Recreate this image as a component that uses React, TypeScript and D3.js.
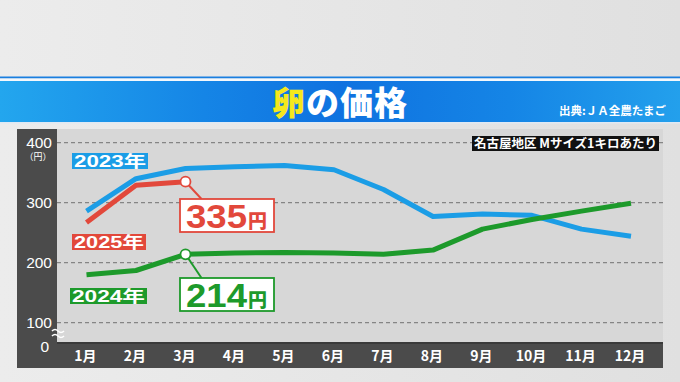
import React from "react";
import * as d3 from "d3";

const months = ["1月", "2月", "3月", "4月", "5月", "6月", "7月", "8月", "9月", "10月", "11月", "12月"];
const yTicks = [400, 300, 200, 100];
const prices2023 = [286, 340, 357, 360, 362, 355, 322, 277, 281, 279, 256, 244];
const prices2024 = [180, 187, 214, 216, 217, 216, 214, 221, 256, 272, 286, 299];
const prices2025 = [267, 329, 335];

const W = 680;
const H = 382;
const FONT = "'Noto Sans CJK JP', 'Noto Sans', sans-serif";
const LAT = "'Liberation Sans', Arial, sans-serif";

export default function App() {
  const x = d3.scalePoint<string>().domain(months).range([86.5, 631]);
  const y = d3.scaleLinear().domain([100, 400]).range([322.7, 142.7]);
  const line = d3
    .line<number>()
    .x((_, i) => x(months[i]) as number)
    .y((d) => y(d))
    .curve(d3.curveLinear);

  const blue = "#1b9de6";
  const red = "#e2483b";
  const green = "#1d9a2b";

  const p25 = { x: x(months[2]) as number, y: y(prices2025[2]) };
  const p24 = { x: x(months[2]) as number, y: y(prices2024[2]) };

  const yearLabel = (label: string, bx: number, by: number, w: number, color: string) => (
    <g>
      <rect x={bx} y={by} width={w} height={16} fill={color} />
      <text x={bx + 2} y={by + 14} fontSize={16} fontWeight={700} fill="#ffffff" fontFamily={LAT}
        textLength={w - 4} lengthAdjust="spacingAndGlyphs">
        {label.slice(0, 4)}
        <tspan fontFamily={FONT} fontSize={16}>{label.slice(4)}</tspan>
      </text>
    </g>
  );

  return (
    <svg width={W} height={H} style={{ position: "absolute", left: 0, top: 0 }} fontFamily={FONT}>
      <defs>
        <linearGradient id="bg" x1="0" y1="0" x2="1" y2="0">
          <stop offset="0" stopColor="#ececec" />
          <stop offset="1" stopColor="#e0e0e0" />
        </linearGradient>
        <linearGradient id="banner" x1="0" y1="0" x2="1" y2="0">
          <stop offset="0" stopColor="#23a6ee" />
          <stop offset="0.3" stopColor="#1585e6" />
          <stop offset="0.5" stopColor="#0f72e0" />
          <stop offset="0.75" stopColor="#1585e6" />
          <stop offset="1" stopColor="#23a0ec" />
        </linearGradient>
      </defs>
      <rect x={0} y={0} width={W} height={H} fill="url(#bg)" />
      {/* banner */}
      <rect x={0} y={76.5} width={W} height={2} fill="#1a7fe0" />
      <rect x={0} y={78.5} width={W} height={2.5} fill="#f4f8fc" />
      <rect x={0} y={81} width={W} height={41} fill="url(#banner)" />
      <rect x={0} y={122} width={W} height={1.5} fill="#dfe9f4" />
      <text x={340} y={115} textAnchor="middle" fontSize={33} fontWeight={900} fill="#ffffff" letterSpacing={1}>
        <tspan fill="#f5e81c">卵</tspan>
        <tspan>の価格</tspan>
      </text>
      <text x={666} y={115} textAnchor="end" fontSize={11.5} fontWeight={700} fill="#ffffff">
        出典:ＪＡ全農たまご
      </text>

      {/* panel */}
      <rect x={57} y={129} width={606} height={214} fill="#d7d7d7" />
      <rect x={17} y={129} width={40} height={239} fill="#4b4b4b" />
      <rect x={17} y={343} width={646} height={25} fill="#4b4b4b" />
      <rect x={57} y={342} width={606} height={2} fill="#3a3a3a" />

      {/* grid */}
      {yTicks.map((t) => (
        <line key={t} x1={57} x2={663} y1={y(t)} y2={y(t)} stroke="#858585" strokeWidth={1.3} strokeDasharray="4 3" />
      ))}

      {/* y labels */}
      {yTicks.map((t) => (
        <text key={t} x={52} y={y(t) + 5.5} textAnchor="end" fontSize={15.5} fill="#ffffff" fontFamily={LAT}>
          {t}
        </text>
      ))}
      <text x={38} y={160} textAnchor="middle" fontSize={9} fill="#ffffff">（円）</text>
      <text x={49} y={352} textAnchor="end" fontSize={15.5} fill="#ffffff" fontFamily={LAT}>
        0
      </text>
      {/* break mark */}
      <g stroke="#ffffff" strokeWidth={1.6} fill="none">
        <path d="M52,331 q3,-3 6,0 t6,0" />
        <path d="M52,336 q3,-3 6,0 t6,0" />
      </g>

      {/* x labels */}
      {months.map((m) => (
        <text key={m} x={(x(m) as number) - 1} y={361} textAnchor="middle" fontSize={14} fontWeight={700} fill="#ffffff">
          {m}
        </text>
      ))}

      {/* note */}
      <rect x={472} y={136} width={187} height={15} fill="#111111" />
      <text x={565.5} y={148} textAnchor="middle" fontSize={12.5} fontWeight={700} fill="#ffffff">
        名古屋地区 Mサイズ1キロあたり
      </text>

      {/* lines */}
      <path d={line(prices2023) || ""} fill="none" stroke={blue} strokeWidth={5} strokeLinejoin="round" />
      <path d={line(prices2024) || ""} fill="none" stroke={green} strokeWidth={5} strokeLinejoin="round" />
      <path d={line(prices2025) || ""} fill="none" stroke={red} strokeWidth={5} strokeLinejoin="round" />

      {/* callouts */}
      <line x1={p25.x} y1={p25.y} x2={p25.x + 16} y2={199} stroke={red} strokeWidth={2} />
      <circle cx={p25.x} cy={p25.y} r={5} fill="#ffffff" stroke={red} strokeWidth={1.8} />
      <rect x={180} y={199} width={94} height={33} fill="#ffffff" stroke={red} strokeWidth={1.8} />
      <text x={186} y={228} fill={red}>
        <tspan fontSize={33} fontFamily={LAT} fontWeight={700} textLength={61} lengthAdjust="spacingAndGlyphs">335</tspan>
        <tspan fontSize={19} fontWeight={900} dx={1}>円</tspan>
      </text>

      <line x1={p24.x} y1={p24.y} x2={p24.x + 16} y2={278} stroke={green} strokeWidth={2} />
      <circle cx={p24.x} cy={p24.y} r={5} fill="#ffffff" stroke={green} strokeWidth={1.8} />
      <rect x={180} y={278} width={94} height={33} fill="#ffffff" stroke={green} strokeWidth={1.8} />
      <text x={186} y={307} fill={green}>
        <tspan fontSize={33} fontFamily={LAT} fontWeight={700} textLength={61} lengthAdjust="spacingAndGlyphs">214</tspan>
        <tspan fontSize={19} fontWeight={900} dx={1}>円</tspan>
      </text>

      {/* series labels */}
      {yearLabel("2023年", 72, 153, 76, blue)}
      {yearLabel("2025年", 72, 234, 74, red)}
      {yearLabel("2024年", 70, 288, 77, green)}
    </svg>
  );
}
